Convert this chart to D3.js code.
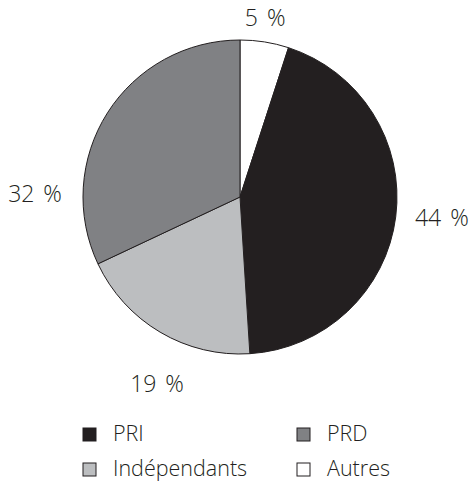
<!DOCTYPE html>
<html>
<head>
<meta charset="utf-8">
<script src="https://cdn.jsdelivr.net/npm/d3@7"></script>
<style>
  body { margin: 0; background: #fff; }
  text { font-family: "Open Sans", "Noto Sans", sans-serif; fill: #231f20; font-weight: 300; }
</style>
</head>
<body>
<script>
// pie slices, clockwise from 12 o'clock
var parties = ["Autres", "PRI", "Indépendants", "PRD"];
var shares = [5, 44, 19, 32];
var colors = ["#ffffff", "#231f20", "#bcbec0", "#808184"];
// legend order
var legendOrder = ["PRI", "PRD", "Indépendants", "Autres"];

var width = 476, height = 482;
var cx = 240, cy = 197, radius = 157;

var svg = d3.select("body").append("svg")
    .attr("width", width)
    .attr("height", height);

var data = parties.map(function(p, i){
    return { party: p, value: shares[i], color: colors[i] };
});

var pie = d3.pie()
    .sort(null)
    .value(function(d){ return d.value; });

var arc = d3.arc()
    .innerRadius(0)
    .outerRadius(radius);

var g = svg.append("g")
    .attr("transform", "translate(" + cx + "," + cy + ")");

var arcs = pie(data);

g.selectAll(".slice")
    .data(arcs)
    .enter()
    .append("path")
    .attr("class", "slice")
    .attr("d", arc)
    .style("fill", function(d){ return d.data.color; })
    .style("stroke", "#231f20")
    .style("stroke-width", 1);

//label placement: angle (deg, clockwise from top) and distance from centre
var labelAngle = { "Autres": 8, "PRI": 96, "Indépendants": 204, "PRD": 271 };
var labelDist = { "Autres": 181, "PRI": 203, "Indépendants": 204, "PRD": 205 };

g.selectAll(".pct")
    .data(arcs)
    .enter()
    .append("text")
    .attr("class", "pct")
    .attr("text-anchor", "middle")
    .attr("dy", "0.36em")
    .attr("x", function(d){
        var a = labelAngle[d.data.party] * Math.PI / 180;
        return Math.sin(a) * labelDist[d.data.party];
    })
    .attr("y", function(d){
        var a = labelAngle[d.data.party] * Math.PI / 180;
        return -Math.cos(a) * labelDist[d.data.party];
    })
    .style("font-size", "23px")
    .style("word-spacing", "3px")
    .text(function(d){ return d.data.value + " %"; });

//legend, 2 columns
var legend = svg.selectAll(".legend")
    .data(legendOrder)
    .enter()
    .append("g")
    .attr("class", "legend")
    .attr("transform", function(d, i){
        var col = i % 2, row = Math.floor(i / 2);
        return "translate(" + (83 + col * 214) + "," + (428 + row * 35) + ")";
    });

legend.append("rect")
    .attr("width", 13)
    .attr("height", 13)
    .style("fill", function(d){ return colors[parties.indexOf(d)]; })
    .style("stroke", "#231f20")
    .style("stroke-width", 1);

legend.append("text")
    .attr("x", 30)
    .attr("y", 12.5)
    .style("font-size", "21.5px")
    .text(function(d){ return d; });
</script>
</body>
</html>
